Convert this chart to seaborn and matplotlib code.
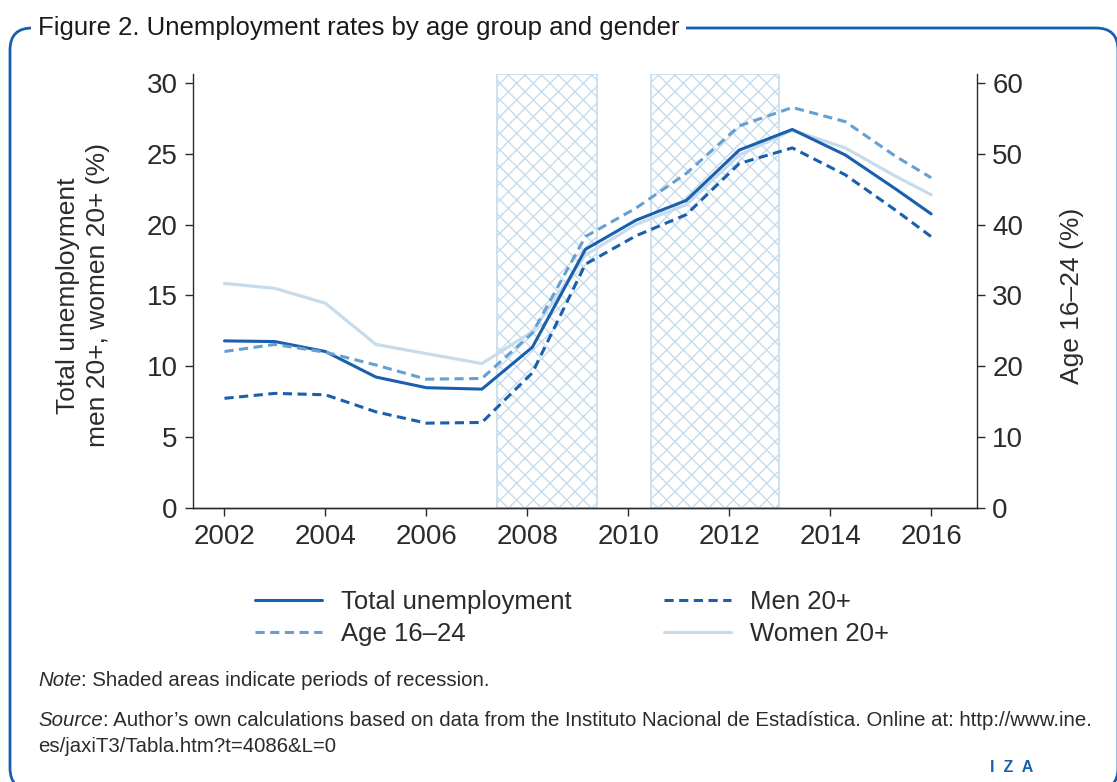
import matplotlib
matplotlib.use("Agg")
import matplotlib.pyplot as plt
import seaborn as sns
from matplotlib.patches import FancyBboxPatch
from matplotlib.transforms import IdentityTransform

# ---- Datos ------------------------------------------------------------------
anios = [2002, 2003, 2004, 2005, 2006, 2007.1, 2008.1, 2009.15, 2010.15,
         2011.15, 2012.2, 2013.25, 2014.3, 2015.3, 2016]
total = [11.8, 11.75, 11.05, 9.25, 8.5, 8.4, 11.35, 18.25, 20.3, 21.7,
         25.25, 26.7, 24.9, 22.5, 20.75]
hombres_20 = [7.75, 8.1, 8.0, 6.8, 6.0, 6.05, 9.55, 17.2, 19.2, 20.7,
              24.3, 25.4, 23.5, 21.0, 19.15]
mujeres_20 = [15.85, 15.5, 14.45, 11.55, 10.9, 10.2, 12.45, 17.85, 20.0,
              21.4, 24.9, 26.65, 25.4, 23.4, 22.1]
edad_16_24 = [22.1, 23.1, 22.0, 20.2, 18.2, 18.3, 24.7, 38.3, 42.3, 47.2,
              53.9, 56.5, 54.5, 49.6, 46.6]

recesiones = [(2007.4, 2009.38), (2010.45, 2012.98)]
ticks_x = [2002, 2004, 2006, 2008, 2010, 2012, 2014, 2016]

AZUL = "#1a5fad"
AZUL_MEDIO = "#66a0d3"
AZUL_CLARO = "#c6dcec"
GRIS = "#2b2b2b"

sns.set_style("white")
plt.rcParams["font.family"] = ["Liberation Sans", "DejaVu Sans"]
plt.rcParams["hatch.linewidth"] = 1.0

fig = plt.figure(figsize=(11.17, 7.82), dpi=100)
ax = fig.add_axes([0.1725, 0.35, 0.7022, 0.5554])
ax2 = ax.twinx()

# ---- Periodos de recesion ---------------------------------------------------
for ini, fin in recesiones:
    ax.axvspan(ini, fin, facecolor="none", edgecolor=AZUL_CLARO,
               hatch="xx", linewidth=1.2, zorder=0)

# ---- Lineas -----------------------------------------------------------------
sns.lineplot(x=anios, y=mujeres_20, ax=ax, color=AZUL_CLARO, linewidth=2.3,
             label="Women 20+")
sns.lineplot(x=anios, y=hombres_20, ax=ax, color=AZUL, linewidth=2.2,
             linestyle=(0, (3, 1.8)), label="Men 20+")
sns.lineplot(x=anios, y=total, ax=ax, color=AZUL, linewidth=2.2,
             label="Total unemployment")
sns.lineplot(x=anios, y=edad_16_24, ax=ax2, color=AZUL_MEDIO, linewidth=2.2,
             linestyle=(0, (3, 1.8)), label="Age 16–24")

for a in (ax, ax2):
    if a.get_legend() is not None:
        a.get_legend().remove()

# ---- Ejes -------------------------------------------------------------------
ax.set_xlim(2001.37, 2016.91)
ax.set_ylim(0, 30.61)
ax2.set_ylim(0, 61.22)
ax.set_xticks(ticks_x)
ax.set_yticks(range(0, 31, 5))
ax2.set_yticks(range(0, 61, 10))

for a in (ax, ax2):
    a.spines["top"].set_visible(False)
    for s in a.spines.values():
        s.set_color(GRIS)
        s.set_linewidth(1.0)
    a.tick_params(direction="out", length=6, width=1, color=GRIS,
                  labelsize=20, labelcolor=GRIS, pad=5)
ax.spines["right"].set_visible(False)
ax2.spines["left"].set_visible(False)
ax.tick_params(axis="y", left=True)
ax.tick_params(axis="x", bottom=True)
ax2.tick_params(axis="y", right=True)

ax.set_xlabel("")
ax.set_ylabel("Total unemployment\nmen 20+, women 20+ (%)", fontsize=19,
              color=GRIS, linespacing=1.35)
ax.yaxis.set_label_coords(-0.105, 0.49)
ax2.set_ylabel("Age 16–24 (%)", fontsize=19, color=GRIS)
ax2.yaxis.set_label_coords(1.106, 0.49)

# ---- Leyenda ----------------------------------------------------------------
h1, l1 = ax.get_legend_handles_labels()
h2, l2 = ax2.get_legend_handles_labels()
por_nombre = dict(zip(l1 + l2, h1 + h2))
orden = ["Total unemployment", "Age 16–24", "Men 20+", "Women 20+"]
fig.legend([por_nombre[n] for n in orden], orden, ncol=2, loc="center",
           bbox_to_anchor=(0.512, 0.21), frameon=False, fontsize=18.5,
           handlelength=2.6, columnspacing=3.6, handletextpad=0.75,
           labelspacing=0.3, labelcolor=GRIS)

# ---- Marco y textos ---------------------------------------------------------
marco = FancyBboxPatch((10, -8), 1108, 762,
                       boxstyle="round,pad=0,rounding_size=22",
                       transform=IdentityTransform(), facecolor="none",
                       edgecolor=AZUL, linewidth=2.0, zorder=1)
fig.add_artist(marco)

fig.text(38 / 1117, 1 - 28 / 782,
         "Figure 2. Unemployment rates by age group and gender",
         fontsize=18.5, color="#1a1a1a", va="center", ha="left", zorder=5,
         bbox=dict(facecolor="white", edgecolor="none", pad=5))

TAM_NOTA = 14.7
nota = fig.text(38 / 1117, 1 - 681 / 782, "Note", fontsize=TAM_NOTA,
                style="italic", color=GRIS, va="center")
ax.annotate(": Shaded areas indicate periods of recession.", xy=(1, 0.5),
            xycoords=nota, va="center", fontsize=TAM_NOTA, color=GRIS,
            annotation_clip=False)

fuente = fig.text(38 / 1117, 1 - 721 / 782, "Source", fontsize=TAM_NOTA,
                  style="italic", color=GRIS, va="center")
ax.annotate(": Author’s own calculations based on data from the Instituto "
            "Nacional de Estadística. Online at: http://www.ine.",
            xy=(1, 0.5), xycoords=fuente, va="center", fontsize=TAM_NOTA,
            color=GRIS, annotation_clip=False)
fig.text(38 / 1117, 1 - 747 / 782, "es/jaxiT3/Tabla.htm?t=4086&L=0",
         fontsize=TAM_NOTA, color=GRIS, va="center")

fig.text(1012 / 1117, 1 - 768 / 782, "I  Z  A", fontsize=11.5, color=AZUL,
         fontweight="bold", ha="center", va="center")

fig.savefig("out.png", dpi=100)
